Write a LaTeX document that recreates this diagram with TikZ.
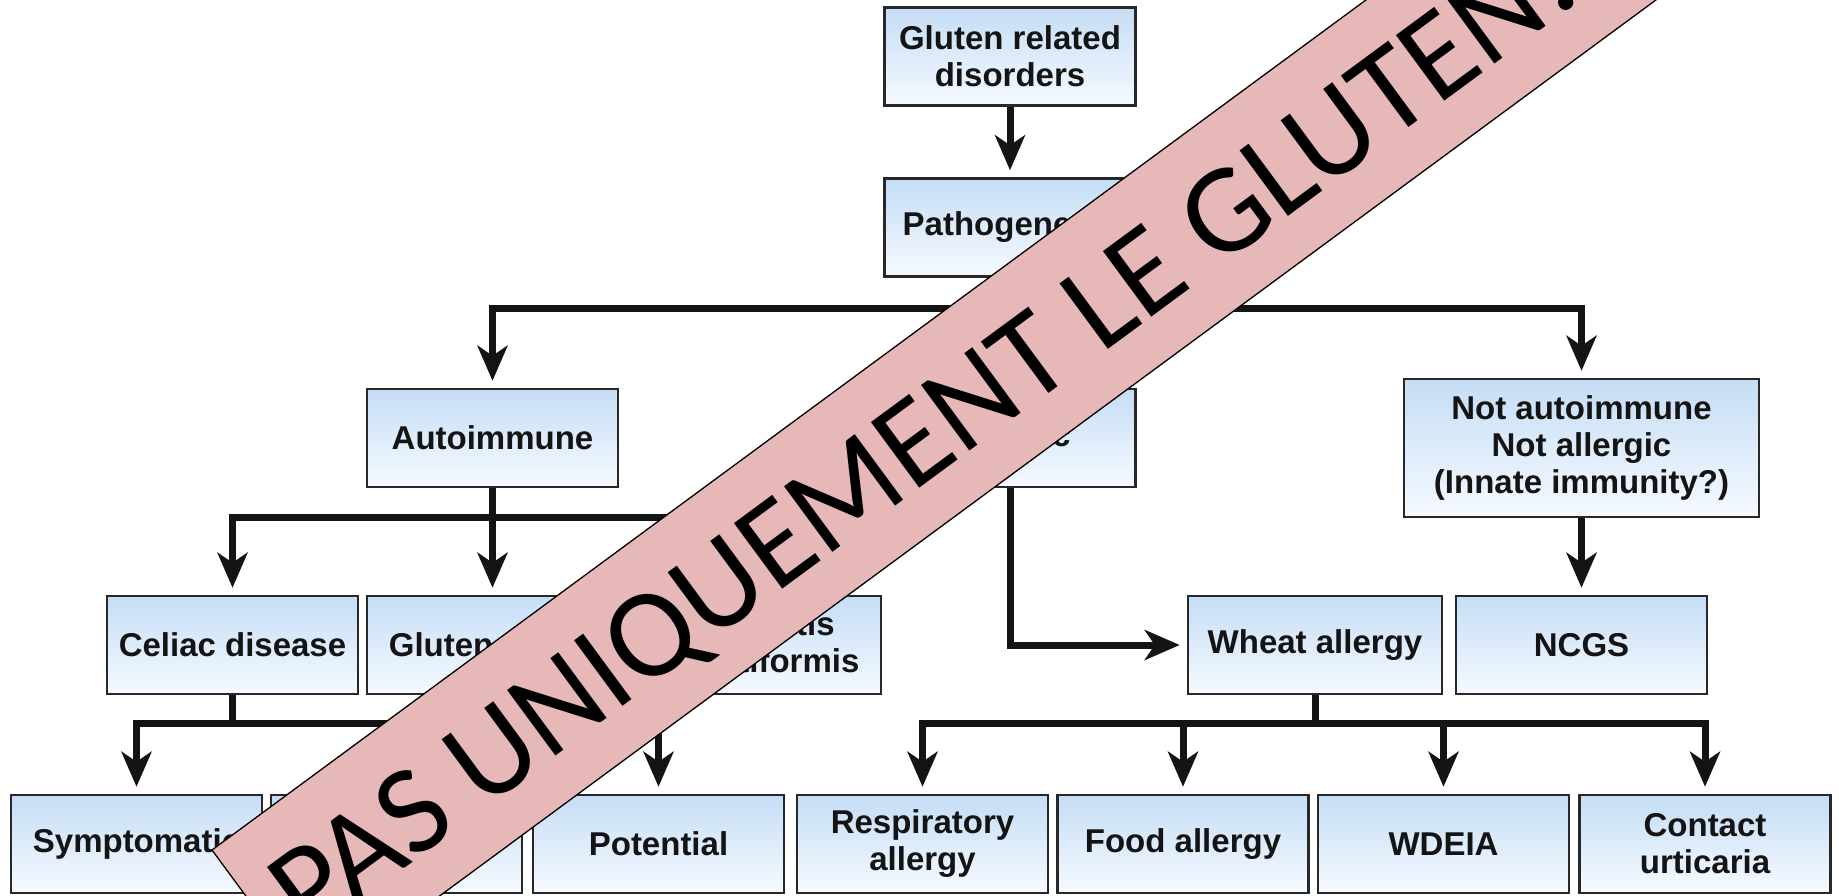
\documentclass[tikz,border=0pt]{standalone}
\usepackage{fontspec}
\setmainfont{Liberation Sans}
\newfontfamily\bannerfont{Carlito}
\usetikzlibrary{arrows.meta,calc}
\definecolor{boxtop}{RGB}{197,221,245}
\definecolor{boxbot}{RGB}{246,250,255}
\definecolor{boxline}{RGB}{40,40,40}
\definecolor{bannerpink}{RGB}{230,184,183}
\definecolor{ink}{RGB}{20,20,20}
\begin{document}
\begin{tikzpicture}[x=1pt,y=-1pt,
  box/.style={draw=boxline, line width=2.5pt, top color=boxtop, bottom color=boxbot,
    minimum width=251pt, minimum height=98pt, inner sep=0pt, align=center,
    font=\fontsize{33}{37}\selectfont\bfseries, text=ink},
  conn/.style={draw=ink, line width=7pt},
  arr/.style={conn, -{Stealth[length=35pt,width=30pt,inset=10pt]}, shorten >=7pt},
  bannerbox/.style={fill=bannerpink, draw=black, line width=1.3pt},
  bannertext/.style={rotate=36.4, anchor=base west, inner sep=0pt,
    font=\bannerfont\fontsize{127}{132}\selectfont, text=black}
]
\useasboundingbox (0,0) rectangle (1839,896);
\fill[white] (0,0) rectangle (1839,896);

% boxes
\node[box] (grd) at (1010,56.5) {Gluten related\\disorders};
\node[box] (path) at (1010,227.5) {Pathogenesis};
\node[box] (auto) at (492.5,438) {Autoimmune};
\node[box] (allg) at (1010,438) {Allergic};
\node[box, minimum width=355pt, minimum height=138pt] (nai) at (1581.5,448) {Not autoimmune\\Not allergic\\(Innate immunity?)};
\node[box] (cd) at (232.5,645) {Celiac disease};
\node[box] (ga) at (492.5,645) {Gluten ataxia};
\node[box, minimum width=254pt] (dh) at (754,645) {Dermatitis\\herpetiformis};
\node[box, minimum width=254pt] (wa) at (1315,645) {Wheat allergy};
\node[box] (ncgs) at (1581.5,645) {NCGS};
\node[box] (sym) at (136.5,844) {Symptomatic};
\node[box] (sil) at (396.5,844) {Silent};
\node[box] (pot) at (658.5,844) {Potential};
\node[box] (resp) at (922.5,844) {Respiratory\\allergy};
\node[box] (food) at (1183,844) {Food allergy};
\node[box] (wdeia) at (1443.5,844) {WDEIA};
\node[box] (cu) at (1705,844) {Contact\\urticaria};

% connectors
\draw[arr] (grd) -- (path);
\coordinate (j1) at (1010,308);
\draw[conn] (path) -- (j1);
\draw[arr] (j1) -| (auto);
\draw[arr] (j1) -- (allg);
\draw[arr] (j1) -| (nai);

\coordinate (j2) at (492.5,517);
\draw[conn] (auto) -- (j2);
\draw[arr] (j2) -| (cd);
\draw[arr] (j2) -- (ga);
\draw[arr] (j2) -| (dh);

\draw[arr] (allg) |- (wa);
\draw[arr] (nai) -- (ncgs);

\coordinate (j3) at (232.5,723);
\draw[conn] (cd) -- (j3);
\draw[arr] (j3) -| (sym);
\draw[arr] (j3) -| (sil);
\draw[arr] (j3) -| (pot);

\coordinate (j4) at (1315,723);
\draw[conn] (wa) -- (j4);
\draw[arr] (j4) -| (resp);
\draw[arr] (j4) -| (food);
\draw[arr] (j4) -| (wdeia);
\draw[arr] (j4) -| (cu);

% banner
\begin{scope}
\clip (0,0) rectangle (1839,896);
\path[bannerbox] (212,850) -- ++(1851.5,-1363.9) -- ++(102,138.5) -- ++(-1851.5,1363.9) -- cycle;
\node[bannertext] (ban) at (308.6,938.8) {PAS UNIQUEMENT LE GLUTEN!};
\end{scope}
\end{tikzpicture}
\end{document}
